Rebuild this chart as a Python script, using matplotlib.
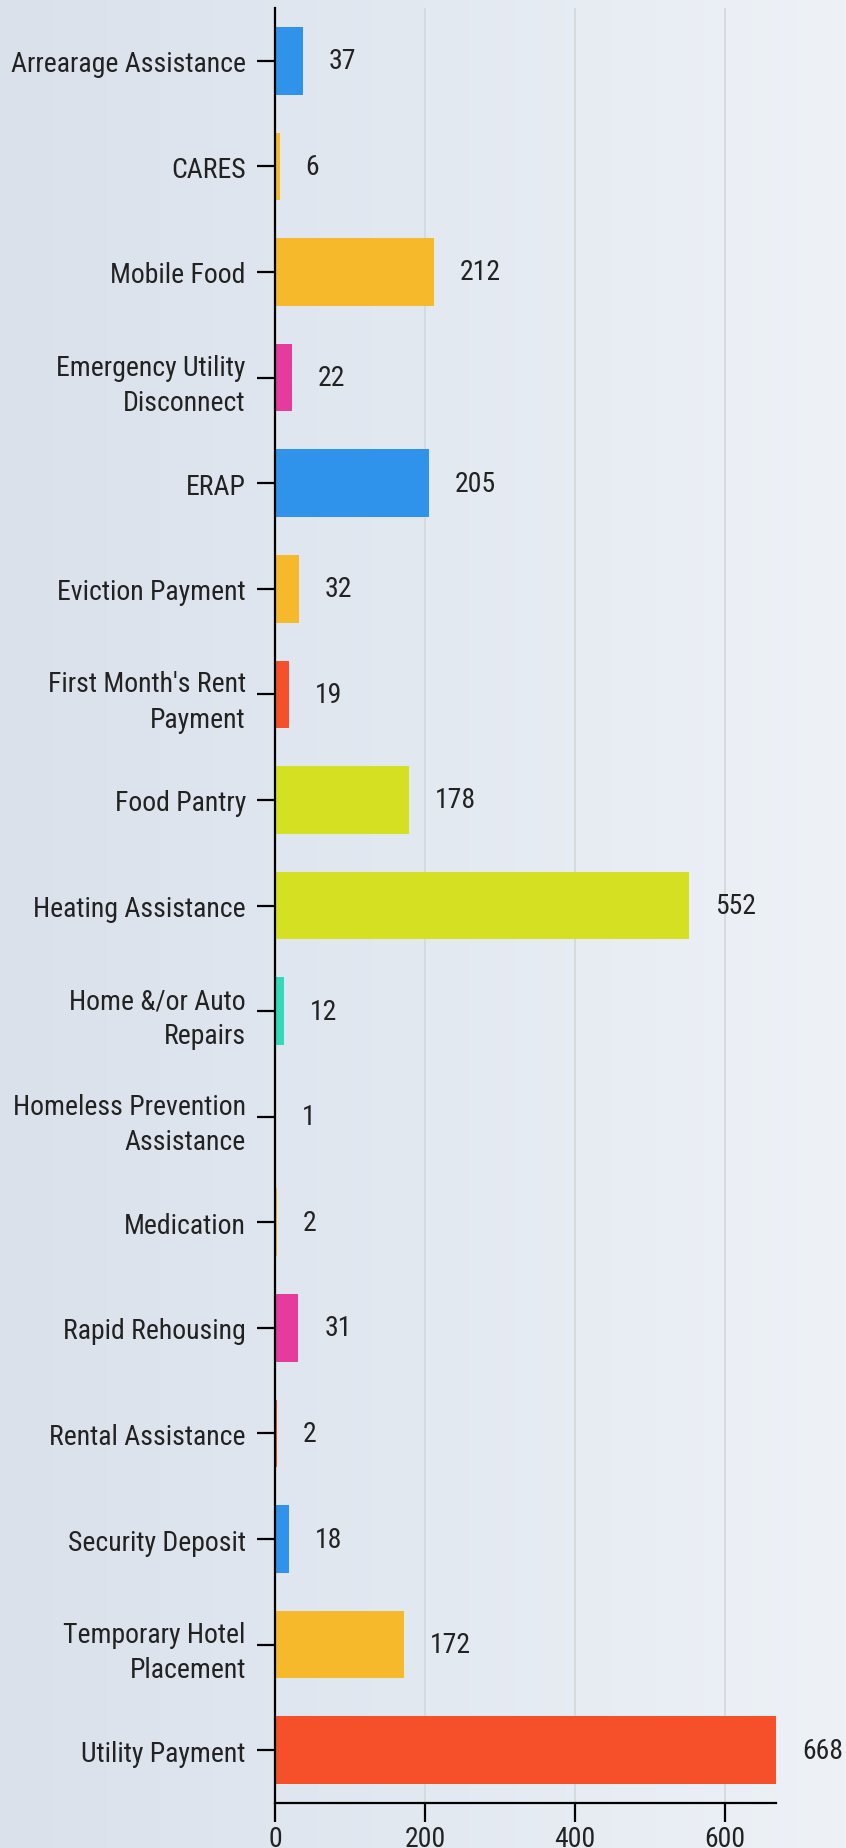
import numpy as np
from matplotlib import pyplot as plt
from matplotlib.colors import LinearSegmentedColormap

# Data
categories = ['Arrearage Assistance', 'CARES', 'Mobile Food', 'Emergency Utility\nDisconnect',
              'ERAP', 'Eviction Payment', "First Month's Rent\nPayment", 'Food Pantry',
              'Heating Assistance', 'Home &/or Auto\nRepairs', 'Homeless Prevention\nAssistance',
              'Medication', 'Rapid Rehousing', 'Rental Assistance', 'Security Deposit',
              'Temporary Hotel\nPlacement', 'Utility Payment']
values = [37, 6, 212, 22, 205, 32, 19, 178, 552, 12, 1, 2, 31, 2, 18, 172, 668]
colors = ['#2f93eb', '#f6b92b', '#f6b92b', '#e43b9c', '#2f93eb', '#f6b92b', '#f5502a', '#d4e021',
          '#d4e021', '#33d9b9', '#2f93eb', '#f6b92b', '#e43b9c', '#f5502a', '#2f93eb', '#f6b92b',
          '#f5502a']
xticks = [0, 200, 400, 600]

plt.rcParams['font.family'] = ['Roboto Condensed', 'Roboto', 'DejaVu Sans']

W, H = 846, 1849
fig = plt.figure(figsize=(W / 100, H / 100), dpi=100)

# gradient background
bg = fig.add_axes([0, 0, 1, 1], zorder=-10)
cmap = LinearSegmentedColormap.from_list('bg', ['#dae1eb', '#e3e9f1', '#eef2f7'])
bg.imshow(np.linspace(0, 1, 256).reshape(1, -1), aspect='auto', cmap=cmap, extent=[0, 1, 0, 1])
bg.axis('off')

ax = fig.add_axes([275 / W, 1 - 1804 / H, (776 - 275) / W, (1804 - 9) / H])
ax.patch.set_alpha(0)

y = np.arange(len(categories))
ax.barh(y, values, color=colors, height=0.64, zorder=2)
for yi, v in zip(y, values):
    ax.annotate(str(v), (v, yi), xytext=(26, 0), textcoords='offset pixels',
                va='center', ha='left', fontsize=20, color='#222222', annotation_clip=False)

ax.set_ylim(len(categories) - 0.5, -0.5)
ax.set_xlim(0, 668)
ax.set_yticks(y)
ax.set_yticklabels(categories, fontsize=20, color='#222222', linespacing=1.4)
ax.set_xticks(xticks)
ax.set_xticklabels([str(t) for t in xticks], fontsize=20, color='#222222')
# tick sizes in points (reference: ~18px ticks, ~2px lines)
ax.tick_params(axis='y', length=13, width=1.6, pad=8)
ax.tick_params(axis='x', length=13.5, width=1.6, pad=2)
ax.grid(axis='x', color='#d6d9dc', linewidth=1.3, zorder=0)
ax.set_axisbelow(True)
for s in ['top', 'right']:
    ax.spines[s].set_visible(False)
ax.spines['left'].set_linewidth(1.6)
ax.spines['bottom'].set_linewidth(1.6)
ax.spines['left'].set_zorder(3)

plt.savefig('out.png', dpi=100)
plt.close()
